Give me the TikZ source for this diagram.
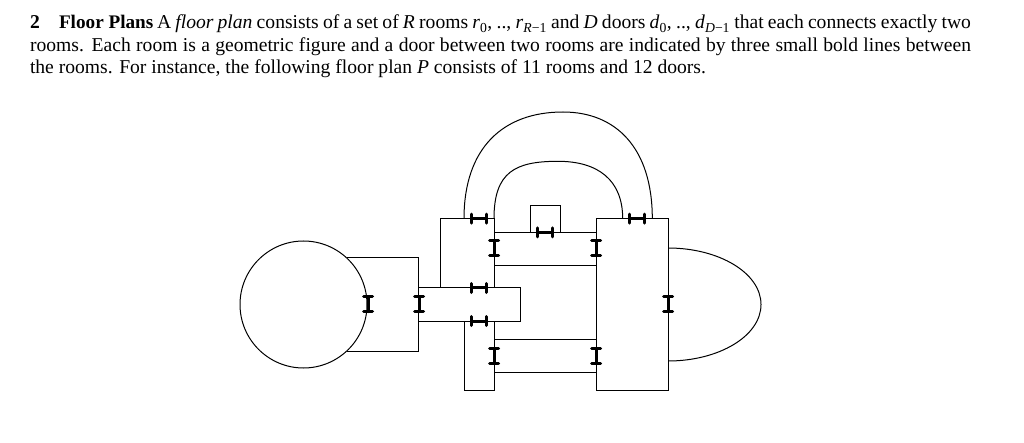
\documentclass[tikz,border=0pt]{standalone}
\usepackage{fontspec}
\setmainfont{Liberation Serif}
\tikzset{
  room/.style={line width=1pt,line join=miter},
  doorline/.style={line width=3pt,line cap=round},
  textline/.style={anchor=base west,inner sep=0pt,outer sep=0pt,font=\fontsize{19.6}{22}\selectfont},
  hdoor/.pic={
    \draw[doorline] (-7.5,0) -- (7.5,0);
    \draw[doorline] (-7.5,-4.5) -- (-7.5,4.5);
    \draw[doorline] (7.5,-4.5) -- (7.5,4.5);
  },
  idoor/.pic={
    \draw[doorline] (0,-7.5) -- (0,7.5);
    \draw[doorline] (-4.5,-7.5) -- (4.5,-7.5);
    \draw[doorline] (-4.5,7.5) -- (4.5,7.5);
  }
}
\newcommand{\subtxt}[1]{\textsubscript{#1}}
\begin{document}
\begin{tikzpicture}[x=1pt,y=-1pt]
      \useasboundingbox (0,0) rectangle (1024,443);
      \node[textline] (line1) at (30,29)
        {\makebox[941pt][s]{\makebox[29pt][l]{\textbf{2}}\makebox[98pt][l]{\textbf{\fontsize{19.2}{22}\selectfont Floor Plans}}A \textit{floor plan} consists of a set of \textit{R} rooms \textit{r}\subtxt{0}, .., \textit{r}\subtxt{\textit{R}−1} and \textit{D} doors \textit{d}\subtxt{0}, .., \textit{d}\subtxt{\textit{D}−1} that each connects exactly two}};
      \node[textline] (line2) at (30,51.7)
        {\makebox[941pt][s]{rooms. Each room is a geometric figure and a door between two rooms are indicated by three small bold lines between}};
      \node[textline] (line3) at (30,74)
        {\makebox[676pt][s]{the rooms. For instance, the following floor plan \textit{P} consists of 11 rooms and 12 doors.}};
      % rooms
      \begin{scope}[room]
        \draw (303.5,304.5) circle (63.5);
        \draw (347,258) -- (418.7,258) -- (418.7,351) -- (347,351);
        \draw (440,288) -- (440,218.7) -- (494,218.7) -- (494,288);
        \draw (418.7,288) rectangle (520.3,321);
        \draw (464.7,321) -- (464.7,390.5) -- (494,390.5) -- (494,321);
        \draw (494,232.3) -- (596,232.3);
        \draw (494,265.3) -- (596,265.3);
        \draw (494,339.3) -- (596,339.3);
        \draw (494,372.7) -- (596,372.7);
        \draw (596,390.5) rectangle (668,218.7);
        \draw (530.3,232.3) -- (530.3,205.3) -- (560.3,205.3) -- (560.3,232.3);
        \draw (668,248) .. controls (719,248) and (761,273) .. (761,304.5)
          .. controls (761,336) and (719,361) .. (668,361);
        \draw (464,218.7) .. controls (464,148) and (503,112) .. (563,112)
          .. controls (616,112) and (652.3,148) .. (652.3,218.7);
        \draw (494,218.7) .. controls (494,172) and (515,161.3) .. (558,161.3)
          .. controls (598,161.3) and (622.7,180) .. (622.7,218.7);
      \end{scope}
      % doors
      \pic at (479,218.7) {hdoor};
      \pic at (545.3,232.3) {hdoor};
      \pic at (637.3,218.7) {hdoor};
      \pic at (479,288) {hdoor};
      \pic at (479,321) {hdoor};
      \pic at (494,248) {idoor};
      \pic at (596,248) {idoor};
      \pic at (494,356) {idoor};
      \pic at (596,356) {idoor};
      \pic at (368,304.2) {idoor};
      \pic at (419,304.2) {idoor};
      \pic at (668,304.2) {idoor};
    \end{tikzpicture}
\end{document}
